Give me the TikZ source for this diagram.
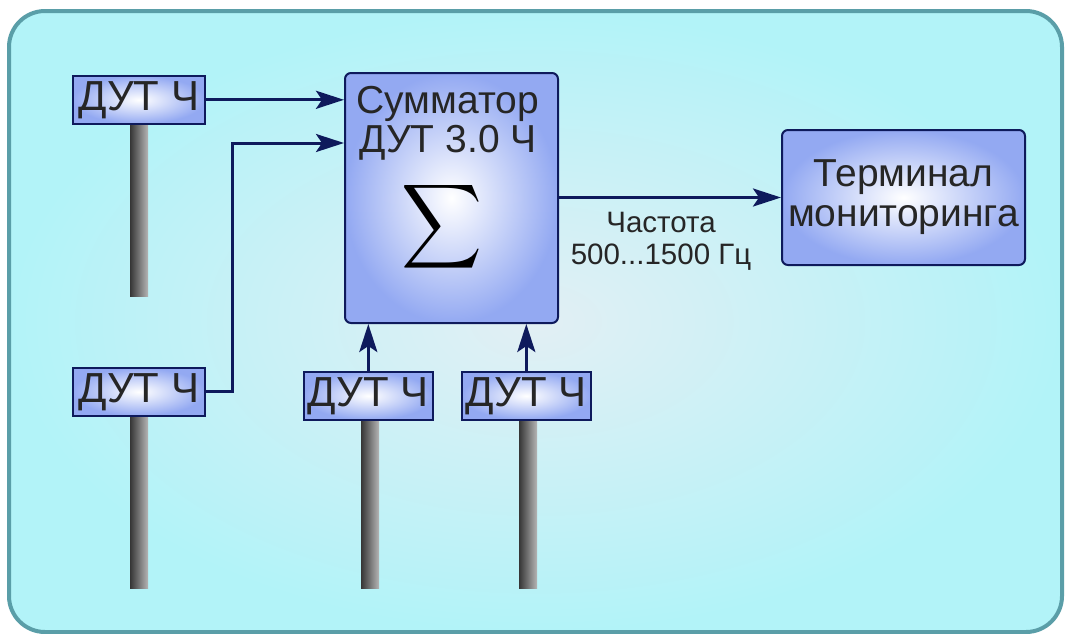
\documentclass[tikz,border=0pt]{standalone}
\usepackage{fontspec}
\setmainfont{Liberation Sans}
\usetikzlibrary{arrows.meta}
\definecolor{navy}{HTML}{0E1A5C}
\definecolor{frame}{HTML}{5A9EA8}
\definecolor{bgout}{HTML}{B2F3F8}
\definecolor{bgin}{HTML}{E2EFF4}
\definecolor{boxout}{HTML}{93A9F2}
\definecolor{stemdark}{HTML}{363636}
\definecolor{stemlight}{HTML}{B5B5B5}
\tikzset{
  dut/.style={draw=navy, line width=1.6pt, inner color=white, outer color=boxout,
    minimum width=132pt, minimum height=48pt, inner sep=0pt, anchor=north west,
    font=\fontsize{42}{42}\selectfont, text=black!85},
  bigbox/.style={draw=navy, line width=2pt, rounded corners=6pt, inner color=white, outer color=boxout,
    inner sep=0pt, anchor=north west},
  bigtext/.style={font=\fontsize{39}{39}\selectfont, text=black!85, align=center, inner sep=0pt},
  smalltext/.style={font=\fontsize{29.5}{32}\selectfont, text=black!85, align=center, inner sep=0pt},
  arr/.style={draw=navy, line width=3pt, -{Stealth[length=28pt,width=18pt,inset=6pt]}},
  stembar/.style={left color=stemdark, right color=stemlight}
}
\begin{document}
\begin{tikzpicture}[x=1pt,y=-1pt]
\useasboundingbox (0,0) rectangle (1065,633);
% background
\shade[inner color=bgin, outer color=bgout, draw=frame, line width=4pt, rounded corners=36pt]
  (9,11) rectangle (1062,632);
% stems
\shade[stembar] (130,123) rectangle (148,296);
\shade[stembar] (130,415) rectangle (148,588);
\shade[stembar] (361,420) rectangle (379,588);
\shade[stembar] (519,420) rectangle (537,588);
% sensors
\node[dut] (d1) at (72,75) {ДУТ Ч};
\node[dut] (d2) at (72,367) {ДУТ Ч};
\node[dut, minimum width=129pt] (d3) at (303,371) {ДУТ Ч};
\node[dut, minimum width=129pt] (d4) at (461,371) {ДУТ Ч};
% summator
\node[bigbox, minimum width=213pt, minimum height=250pt] (sum) at (344,72) {};
\node[bigtext] (stitle) at (448,123) {Сумматор\\ДУТ 3.0 Ч};
\node[inner sep=0pt] (sig) at (442,227) {\scalebox{5.6}[5.9]{$\displaystyle\sum$}};
% terminal
\node[bigbox, minimum width=243pt, minimum height=135pt, align=center,
  font=\fontsize{39}{40}\selectfont, text=black!85] (term) at (781,129) {Терминал\\мониторинга};
% label
\node[smalltext] (freq) at (661,241) {Частота\\500...1500 Гц};
% connectors
\coordinate (k2) at (232,143);
\draw[arr] (d1.east) -- (d1.east -| sum.west);
\draw[arr] (d2.east) -| (k2) -- (k2 -| sum.west);
\draw[arr] (d3.north) -- (d3.north |- sum.south);
\draw[arr] (d4.north) -- (d4.north |- sum.south);
\draw[arr] (sum.east |- term.west) -- (term.west);
\end{tikzpicture}
\end{document}
